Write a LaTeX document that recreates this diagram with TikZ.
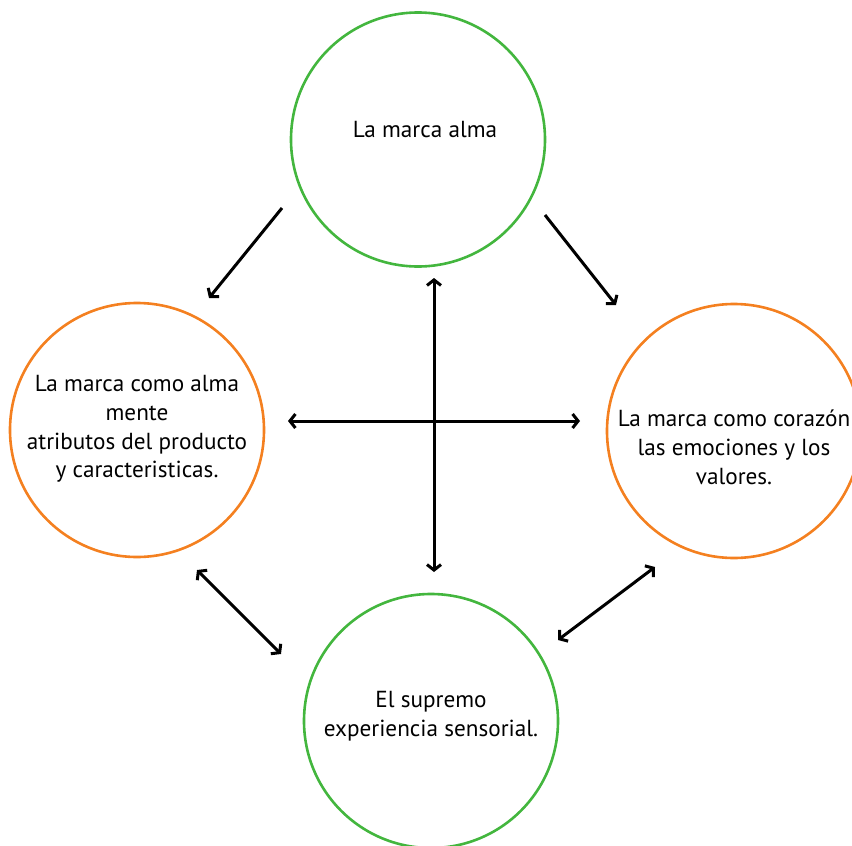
\documentclass[tikz,border=0pt]{standalone}
\usepackage{fontspec}
\setmainfont{PT Sans}
\usetikzlibrary{arrows.meta}
\definecolor{cgreen}{RGB}{67,182,62}
\definecolor{corange}{RGB}{244,128,32}
\begin{document}
\begin{tikzpicture}[x=1pt,y=-1pt,
  ring/.style={circle,draw,line width=2.6pt,minimum size=254pt,inner sep=0pt},
  gring/.style={ring,draw=cgreen},
  oring/.style={ring,draw=corange},
  txt/.style={align=center,font=\fontsize{23.2}{28.8}\selectfont,inner sep=0pt},
  arr/.style={line width=3pt,-{Straight Barb[length=5.5pt,width=14pt,line width=3pt]}},
  darr/.style={line width=3pt,{Straight Barb[length=5.5pt,width=14pt,line width=3pt]}-{Straight Barb[length=5.5pt,width=14pt,line width=3pt]}}]
\useasboundingbox (0,0) rectangle (852,846);
\node[gring] (top) at (418,139.5) {};
\node[oring] (left) at (137,430) {};
\node[oring] (right) at (734,431) {};
\node[gring] (bottom) at (431,721) {};
\node[txt] (ttop) at (425,130) {La marca alma};
\node[txt] (tleft) at (137,429) {La marca como alma\\mente\\atributos del producto\\y caracteristicas.};
\node[txt] (tright) at (734,447) {La marca como corazón\\las emociones y los\\valores.};
\node[txt] (tbottom) at (431,716) {El supremo\\experiencia sensorial.};
\coordinate (a1s) at (282,208); \coordinate (a1e) at (209,298);
\coordinate (a2s) at (545,215); \coordinate (a2e) at (616,305);
\coordinate (vs) at (434,278); \coordinate (ve) at (434,572);
\coordinate (hs) at (288,421); \coordinate (he) at (580,421);
\coordinate (lls) at (197,570); \coordinate (lle) at (281,654);
\coordinate (lrs) at (655,567); \coordinate (lre) at (558,640);
\draw[arr] (a1s) -- (a1e);
\draw[arr] (a2s) -- (a2e);
\draw[darr] (vs) -- (ve);
\draw[darr] (hs) -- (he);
\draw[darr] (lls) -- (lle);
\draw[darr] (lrs) -- (lre);
\end{tikzpicture}
\end{document}
